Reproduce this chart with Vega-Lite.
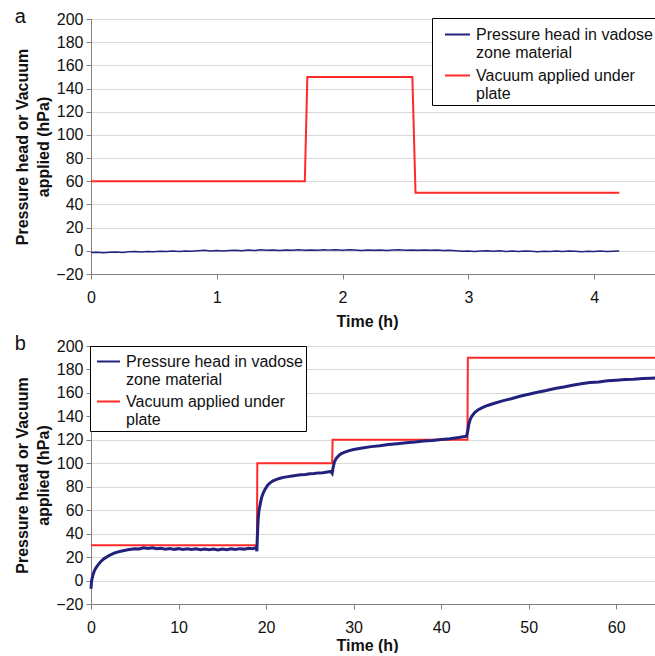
{
  "$schema": "https://vega.github.io/schema/vega-lite/v6.json",
  "padding": {"left": 14, "top": 7, "right": 0, "bottom": 0},
  "background": "white",
  "config": {
    "font": "Liberation Sans",
    "view": {"stroke": null},
    "axis": {"labelFontSize": 16, "labelColor": "#111", "titleFontSize": 16, "titleFontWeight": "bold", "titleColor": "#111", "domainColor": "#808080", "tickColor": "#808080", "tickSize": 5, "gridColor": "#d9d9d9", "labelFont": "Liberation Sans", "titleFont": "Liberation Sans"},
    "legend": {"title": null, "labelFontSize": 16, "labelColor": "#111", "labelLimit": 400, "symbolType": "stroke", "symbolStrokeWidth": 2, "strokeColor": "#000", "fillColor": "#fff", "rowPadding": 1, "labelOffset": 5, "cornerRadius": 0, "orient": "none"},
    "title": {"font": "Liberation Sans", "color": "#111"}
  },
  "datasets": {
    "aHead": [
      {"t":0,"p":-1.5},{"t":0.05,"p":-1.2},{"t":0.1,"p":-1.6},{"t":0.15,"p":-1.3},{"t":0.2,"p":-1.0},{"t":0.25,"p":-1.4},{"t":0.3,"p":-0.8},{"t":0.35,"p":-0.6},{"t":0.4,"p":-1.0},{"t":0.45,"p":-0.5},{"t":0.5,"p":-0.7},{"t":0.55,"p":-0.3},{"t":0.6,"p":-0.6},{"t":0.65,"p":-0.2},{"t":0.7,"p":-0.5},{"t":0.75,"p":-0.1},{"t":0.8,"p":-0.4},{"t":0.85,"p":0.0},{"t":0.9,"p":0.4},{"t":0.95,"p":-0.1},{"t":1.0,"p":0.2},{"t":1.05,"p":-0.2},{"t":1.1,"p":0.3},{"t":1.15,"p":0.5},{"t":1.2,"p":0.1},{"t":1.25,"p":0.6},{"t":1.3,"p":0.3},{"t":1.35,"p":0.9},{"t":1.4,"p":0.4},{"t":1.45,"p":0.7},{"t":1.5,"p":0.2},{"t":1.55,"p":0.8},{"t":1.6,"p":0.5},{"t":1.65,"p":0.9},{"t":1.7,"p":0.4},{"t":1.75,"p":0.8},{"t":1.8,"p":0.5},{"t":1.85,"p":1.0},{"t":1.9,"p":0.6},{"t":1.95,"p":0.9},{"t":2.0,"p":0.5},{"t":2.05,"p":0.9},{"t":2.1,"p":0.6},{"t":2.15,"p":0.3},{"t":2.2,"p":0.7},{"t":2.25,"p":0.4},{"t":2.3,"p":0.8},{"t":2.35,"p":0.3},{"t":2.4,"p":0.6},{"t":2.45,"p":0.9},{"t":2.5,"p":0.4},{"t":2.55,"p":0.7},{"t":2.6,"p":0.5},{"t":2.65,"p":0.8},{"t":2.7,"p":0.4},{"t":2.75,"p":0.6},{"t":2.8,"p":0.3},{"t":2.85,"p":0.5},{"t":2.9,"p":0.0},{"t":2.95,"p":-0.4},{"t":3.0,"p":-0.1},{"t":3.05,"p":-0.5},{"t":3.1,"p":-0.2},{"t":3.15,"p":0.1},{"t":3.2,"p":-0.3},{"t":3.25,"p":0.0},{"t":3.3,"p":-0.5},{"t":3.35,"p":-0.2},{"t":3.4,"p":-0.6},{"t":3.45,"p":-0.1},{"t":3.5,"p":-0.4},{"t":3.55,"p":-0.7},{"t":3.6,"p":-0.3},{"t":3.65,"p":-0.6},{"t":3.7,"p":-0.2},{"t":3.75,"p":-0.5},{"t":3.8,"p":-0.1},{"t":3.85,"p":-0.4},{"t":3.9,"p":-0.8},{"t":3.95,"p":-0.3},{"t":4.0,"p":-0.6},{"t":4.05,"p":-0.2},{"t":4.1,"p":-0.5},{"t":4.15,"p":-0.3},{"t":4.2,"p":-0.2}
    ],
    "aVac": [
      {"t":0,"p":60},{"t":1.70,"p":60},{"t":1.72,"p":150},{"t":2.555,"p":150},{"t":2.58,"p":50},{"t":4.2,"p":50}
    ],
    "bVac": [
      {"t":0,"p":30},{"t":18.95,"p":30},{"t":19.0,"p":100},{"t":27.55,"p":100},{"t":27.6,"p":120},{"t":43.0,"p":120},{"t":43.05,"p":190},{"t":65,"p":190}
    ],
    "bHead": [
      {"t":0,"p":-7},{"t":0.05,"p":-2},{"t":0.1,"p":1},{"t":0.2,"p":4},{"t":0.3,"p":6.5},{"t":0.4,"p":8.5},{"t":0.5,"p":10},{"t":0.7,"p":12.3},{"t":0.9,"p":14.2},{"t":1.1,"p":16},{"t":1.3,"p":17.5},{"t":1.5,"p":18.7},{"t":1.8,"p":20},{"t":2.1,"p":21.5},{"t":2.4,"p":22.5},{"t":2.7,"p":23.5},{"t":3.0,"p":24.2},{"t":3.4,"p":25},{"t":3.8,"p":25.6},{"t":4.2,"p":26.2},{"t":4.6,"p":26.7},{"t":5.0,"p":27.2},{"t":5.5,"p":27.0},{"t":6.0,"p":28.0},{"t":6.5,"p":27.3},{"t":7.0,"p":27.9},{"t":7.5,"p":27.1},{"t":8.0,"p":27.6},{"t":8.5,"p":26.8},{"t":9.0,"p":27.4},{"t":9.5,"p":26.6},{"t":10,"p":27.2},{"t":10.5,"p":26.4},{"t":11,"p":27.1},{"t":11.5,"p":26.5},{"t":12,"p":27.0},{"t":12.5,"p":26.3},{"t":13,"p":26.9},{"t":13.5,"p":26.2},{"t":14,"p":26.8},{"t":14.5,"p":26.1},{"t":15,"p":26.9},{"t":15.5,"p":26.3},{"t":16,"p":27.0},{"t":16.5,"p":26.5},{"t":17,"p":27.2},{"t":17.5,"p":26.8},{"t":18,"p":27.5},{"t":18.5,"p":27.1},{"t":18.85,"p":28.2},{"t":18.95,"p":25},{"t":19.0,"p":36},{"t":19.05,"p":45},{"t":19.1,"p":53},{"t":19.2,"p":60},{"t":19.35,"p":66},{"t":19.5,"p":71},{"t":19.7,"p":75},{"t":19.9,"p":78},{"t":20.2,"p":81.5},{"t":20.5,"p":83.5},{"t":20.8,"p":85},{"t":21.2,"p":86.3},{"t":21.6,"p":87.2},{"t":22.0,"p":88},{"t":22.5,"p":88.6},{"t":23.0,"p":89.2},{"t":23.5,"p":89.7},{"t":24.0,"p":90.3},{"t":24.5,"p":90.5},{"t":25,"p":91.1},{"t":25.5,"p":91.2},{"t":26,"p":91.8},{"t":26.5,"p":91.9},{"t":27,"p":92.5},{"t":27.4,"p":93},{"t":27.55,"p":91.5},{"t":27.65,"p":96},{"t":27.8,"p":101},{"t":28.0,"p":104},{"t":28.3,"p":106.5},{"t":28.6,"p":108.3},{"t":29,"p":109.5},{"t":29.5,"p":110.8},{"t":30,"p":111.8},{"t":31,"p":113},{"t":32,"p":114.2},{"t":33,"p":115},{"t":34,"p":116},{"t":35,"p":116.7},{"t":36,"p":117.5},{"t":37,"p":118.1},{"t":38,"p":118.9},{"t":39,"p":119.5},{"t":40,"p":120.3},{"t":41,"p":121},{"t":42,"p":121.9},{"t":42.9,"p":123},{"t":43.05,"p":128},{"t":43.15,"p":133},{"t":43.3,"p":137},{"t":43.5,"p":140},{"t":43.8,"p":143},{"t":44.2,"p":145.5},{"t":44.7,"p":147.5},{"t":45.3,"p":149.3},{"t":46,"p":151},{"t":47,"p":153.2},{"t":48,"p":155},{"t":49,"p":157.2},{"t":50,"p":158.8},{"t":51,"p":160.6},{"t":52,"p":162},{"t":53,"p":163.7},{"t":54,"p":165},{"t":55,"p":166.6},{"t":56,"p":167.8},{"t":57,"p":168.8},{"t":58,"p":169.4},{"t":59,"p":170.3},{"t":60,"p":170.8},{"t":61,"p":171.4},{"t":62,"p":171.7},{"t":63,"p":172.2},{"t":64,"p":172.5},{"t":65,"p":172.9}
    ]
  },
  "resolve": {"scale": {"x": "independent", "y": "independent", "color": "independent"}, "legend": {"color": "independent"}},
  "spacing": 5,
  "vconcat": [
    {
      "width": 566,
      "height": 255,
      "title": {"text": "a", "anchor": "start", "frame": "bounds", "fontSize": 20, "fontWeight": "normal", "offset": -32, "baseline": "alphabetic"},
      "encoding": {
        "x": {"field": "t", "type": "quantitative", "scale": {"domain": [0, 4.5], "nice": false}, "axis": {"values": [0, 1, 2, 3, 4], "grid": false, "title": "Time (h)", "labelPadding": 10, "titlePadding": 8, "titleX": 276, "labelFlush": false}},
        "y": {"field": "p", "type": "quantitative", "scale": {"domain": [-20, 200], "nice": false}, "axis": {"values": [-20, 0, 20, 40, 60, 80, 100, 120, 140, 160, 180, 200], "grid": true, "title": ["Pressure head or Vacuum", "applied (hPa)"], "titleLineHeight": 21, "titlePadding": 4, "labelPadding": 3}}
      },
      "layer": [
        {
          "data": {"name": "aVac"},
          "mark": {"type": "line", "strokeWidth": 2},
          "encoding": {"color": {"datum": "Vacuum applied under|plate", "type": "nominal", "scale": {"domain": ["Pressure head in vadose|zone material", "Vacuum applied under|plate"], "range": ["#22227e", "#ff2a2a"]}, "legend": {"labelExpr": "split(datum.label, '|')", "legendX": 341, "legendY": -1, "padding": 3, "symbolOffset": 9, "symbolSize": 625}}}
        },
        {
          "data": {"name": "aHead"},
          "mark": {"type": "line", "strokeWidth": 1.5},
          "encoding": {"color": {"datum": "Pressure head in vadose|zone material", "type": "nominal"}}
        }
      ]
    },
    {
      "width": 569,
      "height": 258,
      "title": {"text": "b", "anchor": "start", "frame": "bounds", "fontSize": 20, "fontWeight": "normal", "offset": -32, "baseline": "alphabetic"},
      "encoding": {
        "x": {"field": "t", "type": "quantitative", "scale": {"domain": [0, 65], "nice": false}, "axis": {"values": [0, 10, 20, 30, 40, 50, 60], "grid": false, "title": "Time (h)", "labelPadding": 10, "titlePadding": 2, "titleX": 276, "labelFlush": false}},
        "y": {"field": "p", "type": "quantitative", "scale": {"domain": [-20, 200], "nice": false}, "axis": {"values": [-20, 0, 20, 40, 60, 80, 100, 120, 140, 160, 180, 200], "grid": true, "title": ["Pressure head or Vacuum", "applied (hPa)"], "titleLineHeight": 21, "titlePadding": 4, "labelPadding": 3}}
      },
      "layer": [
        {
          "data": {"name": "bVac"},
          "mark": {"type": "line", "strokeWidth": 2},
          "encoding": {"color": {"datum": "Vacuum applied under|plate", "type": "nominal", "scale": {"domain": ["Pressure head in vadose|zone material", "Vacuum applied under|plate"], "range": ["#22227e", "#ff2a2a"]}, "legend": {"labelExpr": "split(datum.label, '|')", "legendX": -1, "legendY": 0, "padding": 3, "symbolOffset": 3, "symbolSize": 529}}}
        },
        {
          "data": {"name": "bHead"},
          "mark": {"type": "line", "strokeWidth": 3},
          "encoding": {"color": {"datum": "Pressure head in vadose|zone material", "type": "nominal"}}
        }
      ]
    }
  ]
}
